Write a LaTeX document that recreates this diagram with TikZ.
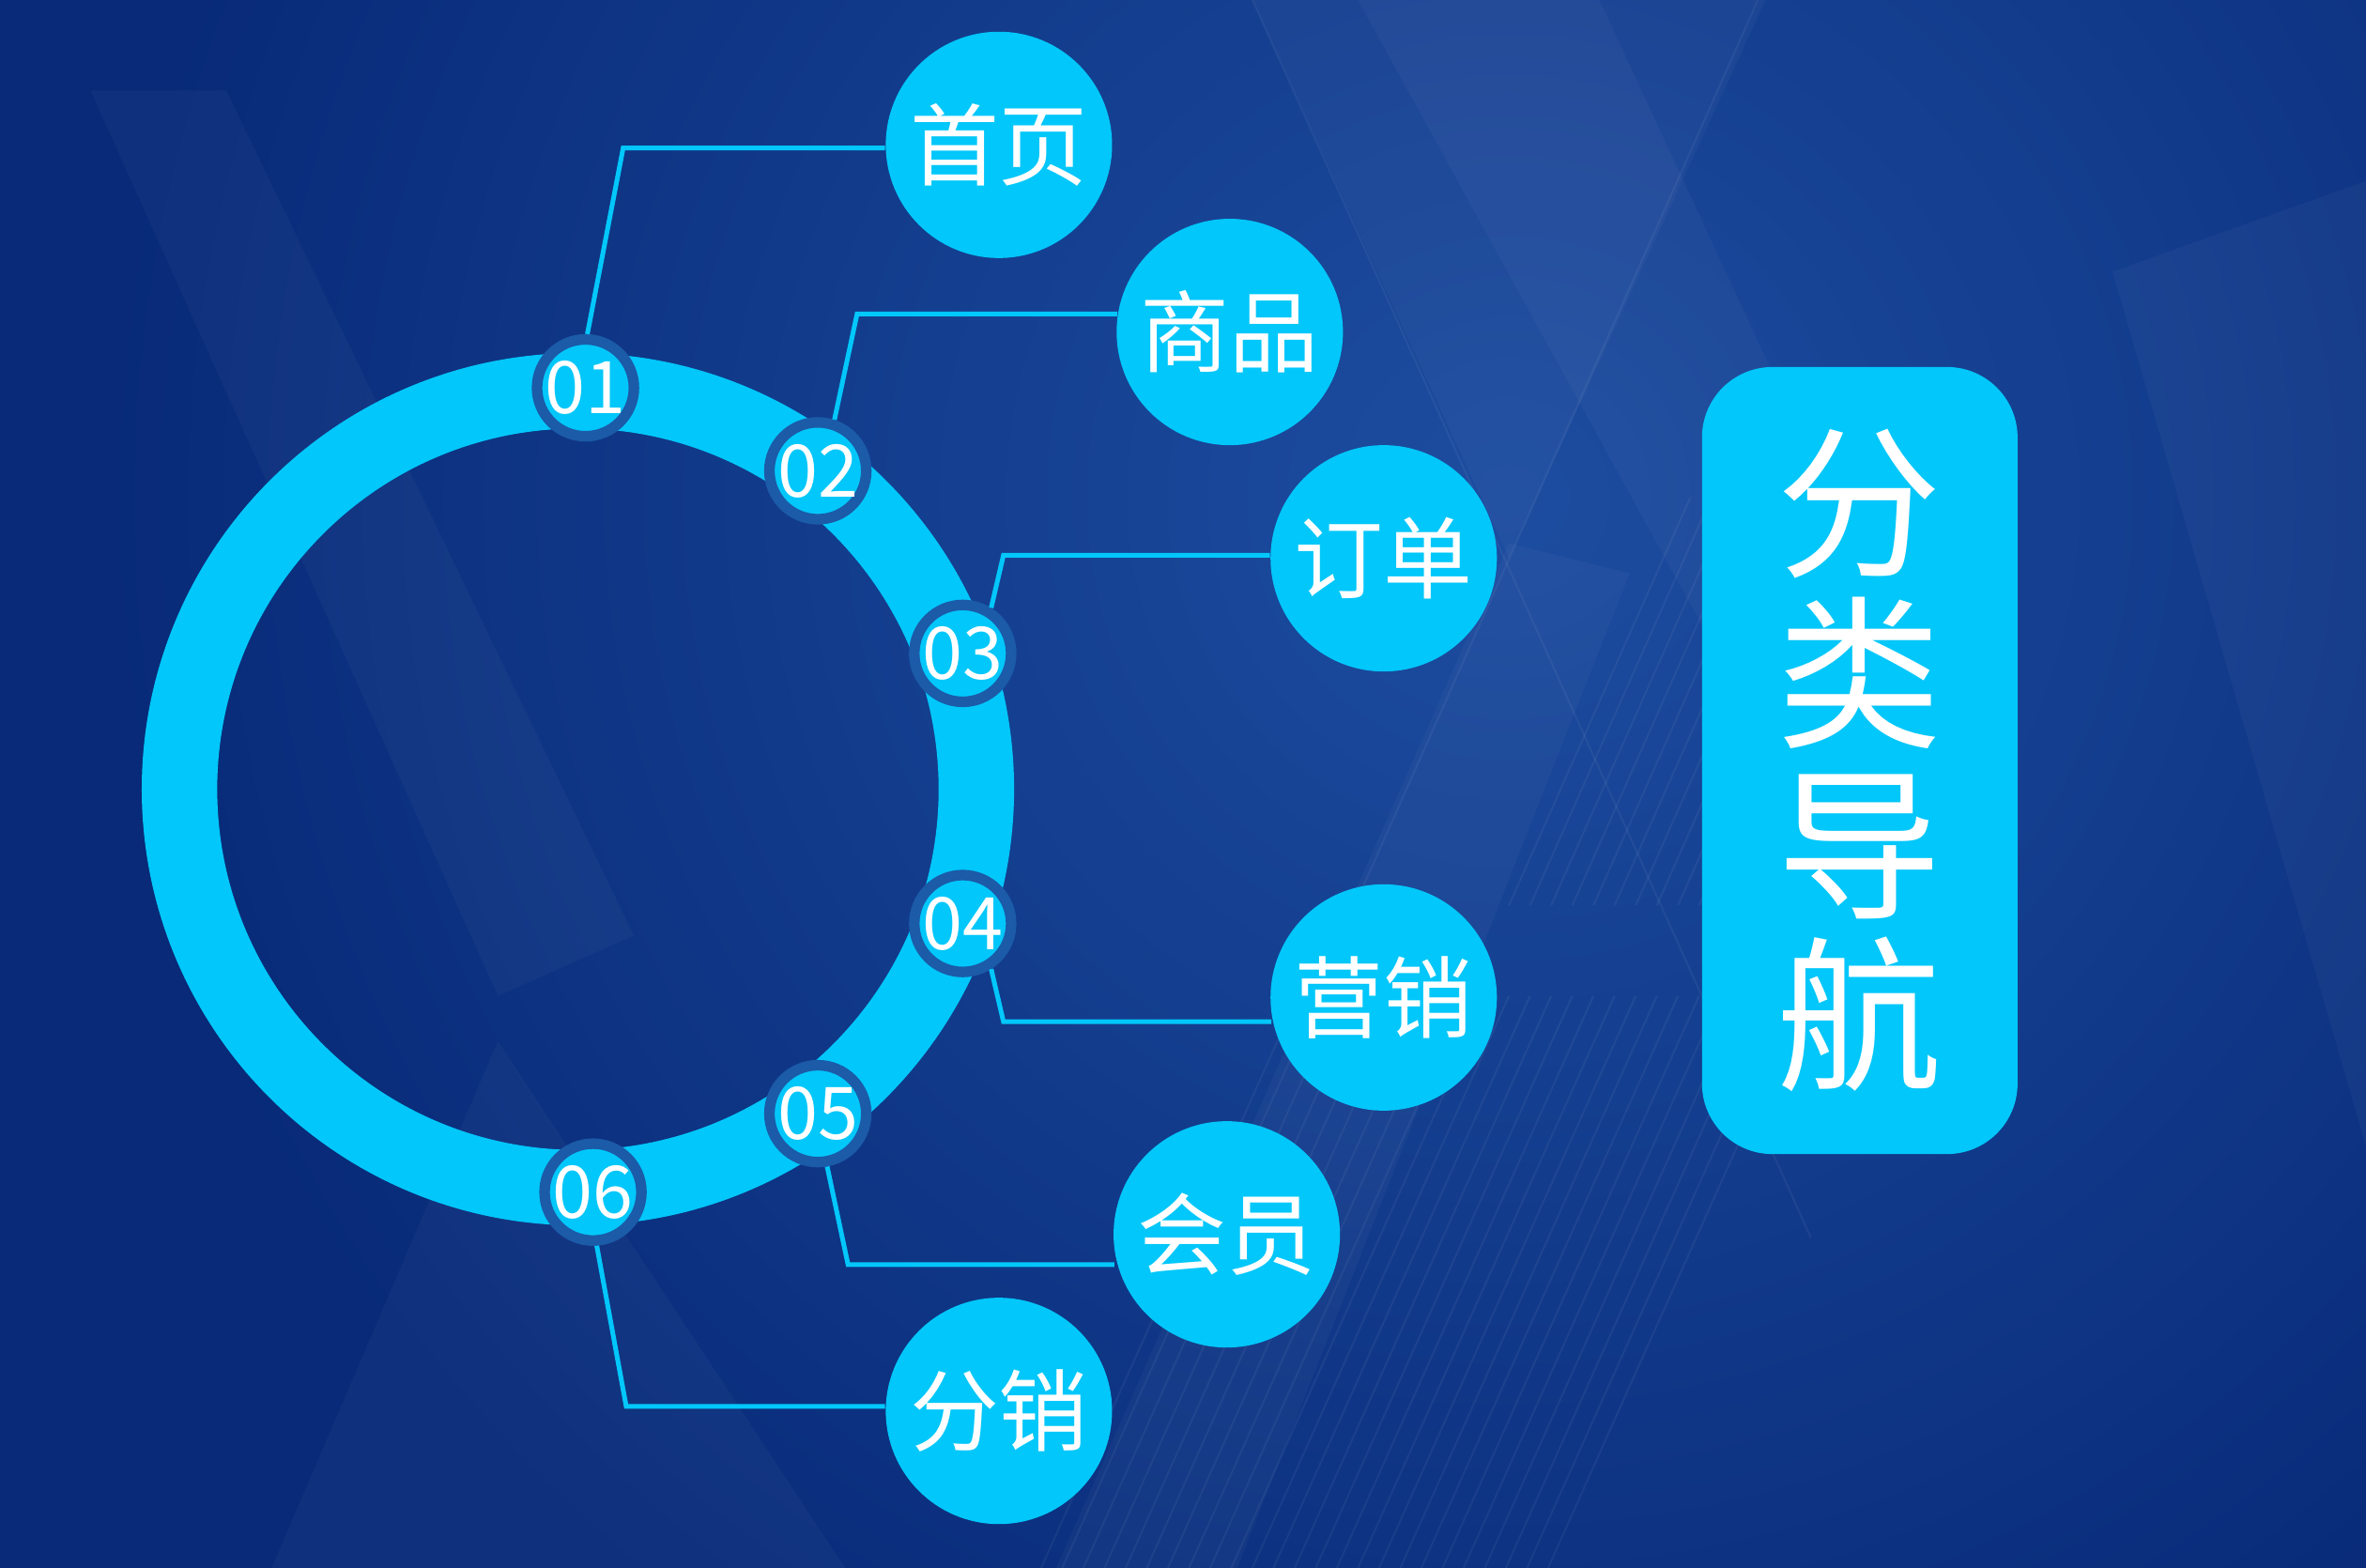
\documentclass[tikz,border=0pt]{standalone}
\usepackage{fontspec}
\setmainfont{Noto Sans CJK SC}
\usetikzlibrary{calc}
\definecolor{cy}{HTML}{02C7FA}
\definecolor{bd}{HTML}{1B5BA8}
\definecolor{bgA}{HTML}{082A78}
\definecolor{bgB}{HTML}{1D4DA0}
\begin{document}
\begin{tikzpicture}[x=0.01607cm,y=-0.01607cm,
  badge/.style={circle,fill=cy,draw=bd,line width=0.1125cm,minimum size=1.012cm,inner sep=0pt,text=white,font=\fontsize{22pt}{22pt}\selectfont},
  item/.style={circle,fill=cy,minimum size=2.41cm,inner sep=0pt,text=white,font=\fontsize{27pt}{27pt}\selectfont},
  link/.style={draw=cy,line width=0.05cm,line join=miter},
  band/.style={fill=white,opacity=0.03},
  hatch/.style={draw=white,opacity=0.05,line width=0.6pt}]
\useasboundingbox (0,0) rectangle (1568,1039);
% background
\fill[bgA] (0,0) rectangle (1568,1039);
\begin{scope}
\clip (0,0) rectangle (1568,1039);
\shade[inner color=bgB,outer color=bgA] (1000,330) circle (15cm);
\fill[band] (830,0) -- (1170,0) -- (1000,370) -- cycle;
\fill[band] (900,0) -- (1060,0) -- (1320,560) -- (1230,600) -- cycle;
\fill[band] (60,60) -- (150,60) -- (420,620) -- (330,660) -- cycle;
\fill[band] (180,1039) -- (330,690) -- (560,1039) -- cycle;
\fill[band] (1400,180) -- (1568,120) -- (1568,760) -- cycle;
\fill[band] (700,1039) -- (1000,360) -- (1080,380) -- (820,1039) -- cycle;
\draw[hatch] (1165,0) -- (880,640);
\draw[hatch] (830,0) -- (1200,820);
\foreach \i in {0,...,24}{
  \draw[hatch] (690+\i*14,1039) -- (860+\i*14,660);
}
\foreach \i in {0,...,14}{
  \draw[hatch] (1000+\i*14,600) -- (1120+\i*14,330);
}
\end{scope}
% ring
\draw[cy,line width=0.8035cm] (383,523) circle (4.2425cm);
% badges
\node[badge] (b1) at (388,257) {01};
\node[badge] (b2) at (542,312) {02};
\node[badge] (b3) at (638,433) {03};
\node[badge] (b4) at (638,612) {04};
\node[badge] (b5) at (542,738) {05};
\node[badge] (b6) at (393,790) {06};
% items
\node[item] (i1) at (662,96) {首页};
\node[item] (i2) at (815,220) {商品};
\node[item] (i3) at (917,370) {订单};
\node[item] (i4) at (917,661) {营销};
\node[item] (i5) at (813,818) {会员};
\node[item] (i6) at (662,935) {分销};
% corners
\coordinate (c1) at (413,98);
\coordinate (c2) at (568,208);
\coordinate (c3) at (665,368);
\coordinate (c4) at (665,677);
\coordinate (c5) at (562,838);
\coordinate (c6) at (415,932);
% connectors
\draw[link] (b1.88) -- (c1) -- (c1 -| i1.west);
\draw[link] (b2.72) -- (c2) -- ($(c2 -| i2.west)+(1,0)$);
\draw[link] (b3.58) -- (c3) -- (c3 -| i3.west);
\draw[link] (b4.-58) -- (c4) -- ($(c4 -| i4.west)+(1,0)$);
\draw[link] (b5.-80) -- (c5) -- ($(c5 -| i5.west)+(1,0)$);
\draw[link] (b6.-86) -- (c6) -- (c6 -| i6.west);
% title box
\node[fill=cy,rounded corners=0.75cm,minimum width=3.36cm,minimum height=8.38cm] (box) at (1232.5,504) {};
\node[text=white,align=center,font=\fontsize{50pt}{51.7pt}\selectfont] (title) at (box.center) {分\\类\\导\\航};
\end{tikzpicture}
\end{document}
